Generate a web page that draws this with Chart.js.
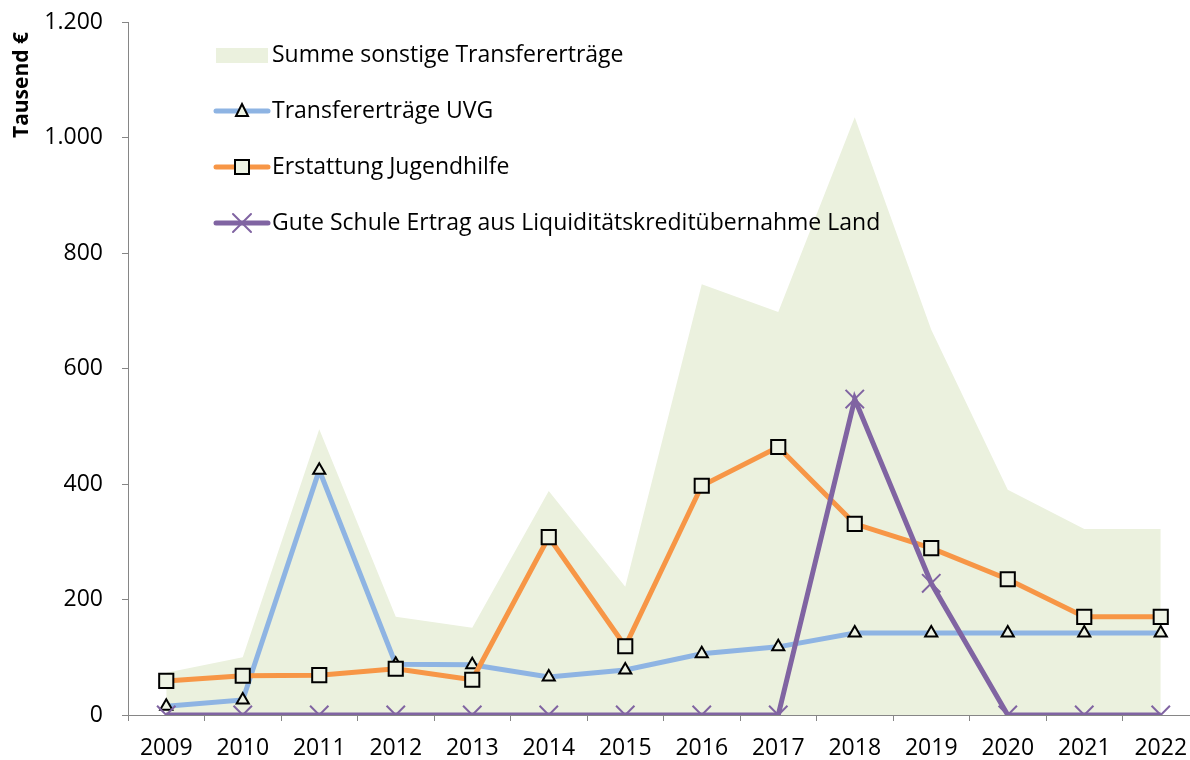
<!DOCTYPE html>
<html>
<head>
<meta charset="utf-8">
<script src="https://cdn.jsdelivr.net/npm/chart.js@4"></script>
<style>
  body { margin: 0; overflow: hidden; background: #fff; }
</style>
</head>
<body>
<canvas id="myChart" width="1214" height="760"></canvas>
<script>
const years = ['2009', '2010', '2011', '2012', '2013', '2014', '2015', '2016', '2017', '2018', '2019', '2020', '2021', '2022'];
const summeSonstige = [73, 100, 495, 170, 151, 388, 222, 746, 698, 1035, 667, 390, 322, 322];
const uvg = [15, 26, 424, 88, 87, 66, 78, 106, 118, 142, 142, 142, 142, 142];
const jugendhilfe = [59, 68, 69, 80, 61, 308, 119, 397, 464, 331, 289, 235, 170, 170];
const guteSchule = [0, 0, 0, 0, 0, 0, 0, 0, 0, 547, 228, 0, 0, 0];

const FONT = '"Open Sans", sans-serif';
const AREA = '#EBF1DE';
const BLUE = '#8EB4E3';
const ORANGE = '#F79646';
const PURPLE = '#8064A2';
const MARKER_FILL = '#EEF3E4';

function fmt(v) {
  return String(v).replace(/\B(?=(\d{3})+(?!\d))/g, '.');
}

function marker(c, style, x, y) {
  c.save();
  if (style === 'triangle') {
    c.beginPath();
    c.moveTo(x, y - 7);
    c.lineTo(x + 6, y + 5);
    c.lineTo(x - 6, y + 5);
    c.closePath();
    c.fillStyle = MARKER_FILL;
    c.fill();
    c.lineWidth = 2;
    c.strokeStyle = '#000';
    c.stroke();
  } else if (style === 'rect') {
    c.fillStyle = MARKER_FILL;
    c.fillRect(x - 7, y - 7, 14, 14);
    c.lineWidth = 2;
    c.strokeStyle = '#000';
    c.strokeRect(x - 7, y - 7, 14, 14);
  } else {
    c.beginPath();
    c.moveTo(x - 9, y - 9); c.lineTo(x + 9, y + 9);
    c.moveTo(x + 9, y - 9); c.lineTo(x - 9, y + 9);
    c.lineWidth = 2;
    c.strokeStyle = PURPLE;
    c.stroke();
  }
  c.restore();
}

const legendItems = [
  { text: 'Summe sonstige Transfererträge', type: 'area' },
  { text: 'Transfererträge UVG', type: 'line', color: BLUE, style: 'triangle' },
  { text: 'Erstattung Jugendhilfe', type: 'line', color: ORANGE, style: 'rect' },
  { text: 'Gute Schule Ertrag aus Liquiditätskreditübernahme Land', type: 'line', color: PURPLE, style: 'cross' }
];

const extras = {
  id: 'extras',
  afterDraw(chart) {
    const c = chart.ctx;
    c.save();
    // y axis title
    c.translate(22, 85);
    c.rotate(-Math.PI / 2);
    c.font = 'bold 21px ' + FONT;
    c.fillStyle = '#000';
    c.textAlign = 'center';
    c.textBaseline = 'middle';
    c.fillText('Tausend €', 0, 0);
    c.restore();

    // legend
    c.save();
    c.font = '23px ' + FONT;
    c.textBaseline = 'middle';
    legendItems.forEach((it, i) => {
      const y = 55 + i * 56;
      if (it.type === 'area') {
        c.fillStyle = AREA;
        c.fillRect(216, y - 7, 52, 15);
      } else {
        c.strokeStyle = it.color;
        c.lineWidth = 5;
        c.lineCap = 'round';
        c.beginPath();
        c.moveTo(216, y);
        c.lineTo(268, y);
        c.stroke();
        marker(c, it.style, 242, y);
      }
      c.fillStyle = '#000';
      c.fillText(it.text, 272, y);
    });
    c.restore();
  }
};

const ctx = document.getElementById('myChart');
new Chart(ctx, {
  type: 'line',
  data: {
    labels: years,
    datasets: [
      {
        label: 'Gute Schule Ertrag aus Liquiditätskreditübernahme Land',
        data: guteSchule,
        borderColor: PURPLE,
        borderWidth: 5,
        pointStyle: 'crossRot',
        pointRadius: 13,
        pointBorderColor: PURPLE,
        pointBorderWidth: 2,
        order: 0
      },
      {
        label: 'Erstattung Jugendhilfe',
        data: jugendhilfe,
        borderColor: ORANGE,
        borderWidth: 5,
        pointStyle: 'rect',
        pointRadius: 10,
        pointBackgroundColor: MARKER_FILL,
        pointBorderColor: '#000',
        pointBorderWidth: 2,
        order: 1
      },
      {
        label: 'Transfererträge UVG',
        data: uvg,
        borderColor: BLUE,
        borderWidth: 5,
        pointStyle: 'triangle',
        pointRadius: 7,
        pointBackgroundColor: MARKER_FILL,
        pointBorderColor: '#000',
        pointBorderWidth: 2,
        order: 2
      },
      {
        label: 'Summe sonstige Transfererträge',
        data: summeSonstige,
        fill: 'origin',
        backgroundColor: AREA,
        borderWidth: 0,
        pointRadius: 0,
        order: 3
      }
    ]
  },
  options: {
    responsive: false,
    animation: false,
    layout: { padding: { top: 22, right: 1, left: 0, bottom: 0 } },
    plugins: {
      legend: { display: false },
      tooltip: { enabled: false }
    },
    scales: {
      x: {
        offset: true,
        grid: { offset: true, drawOnChartArea: false, tickLength: 6, color: '#868686', lineWidth: 1 },
        border: { color: '#868686', width: 1 },
        ticks: { font: { family: FONT, size: 23 }, color: '#000', padding: 14, maxRotation: 0 },
        afterFit(s) {
          s.height = 45;
          s.paddingLeft = 0;
          s.paddingRight = 0;
        }
      },
      y: {
        min: 0,
        max: 1200,
        grid: { drawOnChartArea: false, tickLength: 6, color: '#868686' },
        border: { color: '#868686', width: 1 },
        ticks: {
          stepSize: 200,
          font: { family: FONT, size: 23 },
          color: '#000',
          padding: 19,
          callback: v => fmt(v)
        },
        afterFit(s) {
          s.width = 128;
          s.paddingTop = 0;
          s.paddingBottom = 0;
        }
      }
    }
  },
  plugins: [extras]
});
</script>
</body>
</html>
